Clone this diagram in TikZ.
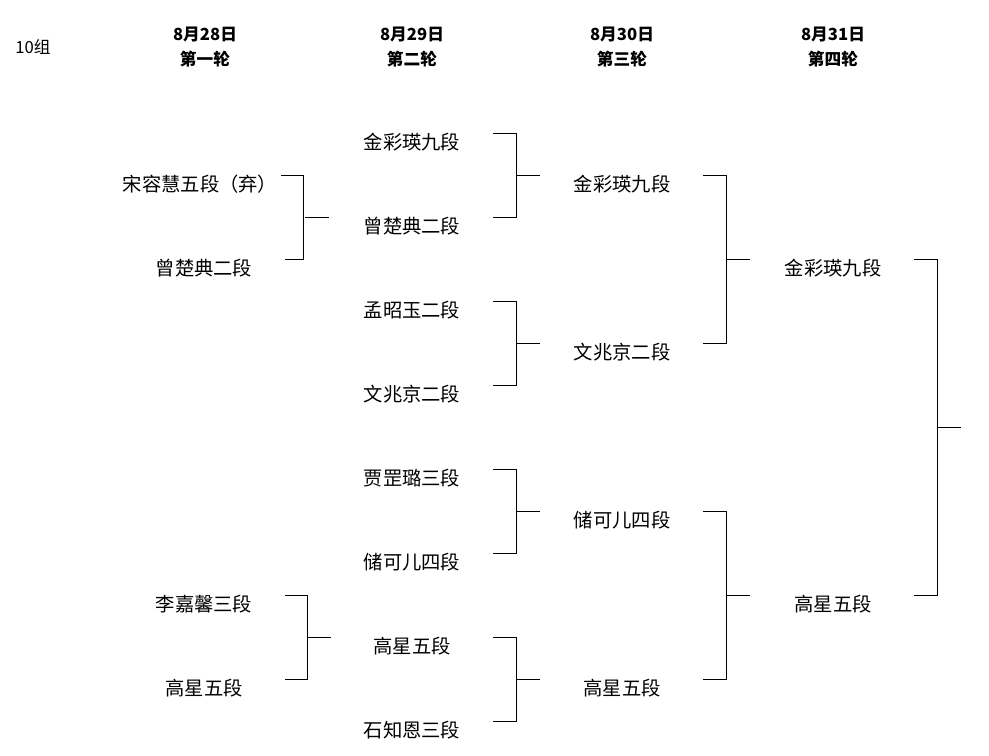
\documentclass[tikz,border=0pt]{standalone}
\usepackage{fontspec}
\setmainfont{Liberation Serif}
\newfontfamily\cjk{Noto Sans CJK SC}
\usetikzlibrary{positioning, calc}
\tikzset{
    player/.style = {inner sep=0pt, font=\cjk\fontsize{11}{13}\selectfont},
    head/.style = {inner sep=0pt, align=center, font=\cjk\bfseries\fontsize{9.5}{14}\selectfont},
    bline/.style = {draw=black, line width=0.5pt},
}
% bracket: upper node, lower node, x of node right end, x of join
\newcommand{\pairjoin}[4]{
    \draw[bline] ($(#1)+(#3,-9)$) -| ($(#1)+(#4,-9)$) |- ($(#2)+(#3,-9)$);
    \draw[bline] ($(#1)!0.5!(#2)+(#4,-9)$) -- ++(24,0);
}
\begin{document}
\begin{tikzpicture}[x=0.02cm, y=-0.02cm]
        \useasboundingbox (0,0) rectangle (989,755);
        \node (grp) [player, font=\cjk\fontsize{9.5}{12}\selectfont] at (33,47) {10组};
        \node (h1) [head] at (205,47) {8月28日\\第一轮};
        \node (h2) [head] at (412,47) {8月29日\\第二轮};
        \node (h3) [head] at (622,47) {8月30日\\第三轮};
        \node (h4) [head] at (833,47) {8月31日\\第四轮};
        % first round
        \node (a1) [player] at (200,184) {宋容慧五段（弃）};
        \node (a2) [player] at (204,268) {曾楚典二段};
        \node (a3) [player] at (204,604) {李嘉馨三段};
        \node (a4) [player] at (204,688) {高星五段};
        % second round
        \node (b1) [player] at (412,142) {金彩瑛九段};
        \node (b2) [player] at (412,226) {曾楚典二段};
        \node (b3) [player] at (412,310) {孟昭玉二段};
        \node (b4) [player] at (412,394) {文兆京二段};
        \node (b5) [player] at (412,478) {贾罡璐三段};
        \node (b6) [player] at (412,562) {储可儿四段};
        \node (b7) [player] at (412,646) {高星五段};
        \node (b8) [player] at (412,730) {石知恩三段};
        % third round
        \node (c1) [player] at (622,184) {金彩瑛九段};
        \node (c2) [player] at (622,352) {文兆京二段};
        \node (c3) [player] at (622,520) {储可儿四段};
        \node (c4) [player] at (622,688) {高星五段};
        % fourth round
        \node (d1) [player] at (833,268) {金彩瑛九段};
        \node (d2) [player] at (833,604) {高星五段};
        \pairjoin{a1}{a2}{81}{103}
        \pairjoin{a3}{a4}{81}{103}
        \pairjoin{b1}{b2}{81}{104}
        \pairjoin{b3}{b4}{81}{104}
        \pairjoin{b5}{b6}{81}{104}
        \pairjoin{b7}{b8}{81}{104}
        \pairjoin{c1}{c2}{81}{104}
        \pairjoin{c3}{c4}{81}{104}
        \pairjoin{d1}{d2}{81}{104}
\end{tikzpicture}
\end{document}
